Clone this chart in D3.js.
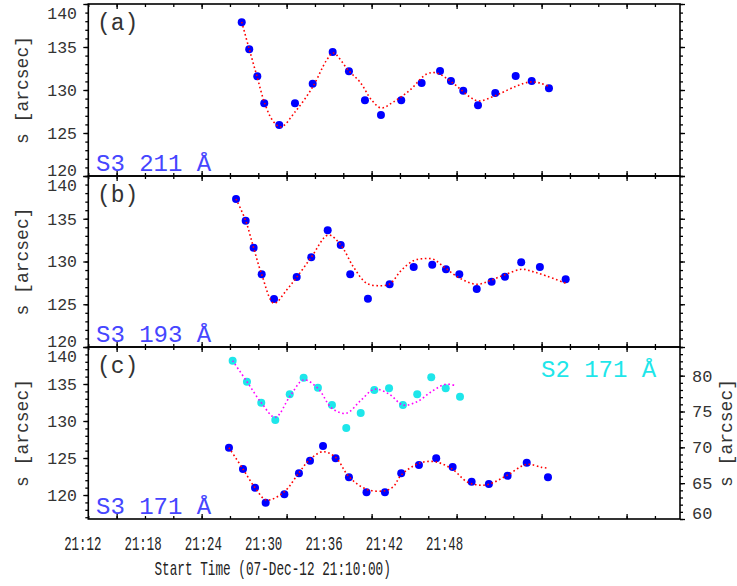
<!DOCTYPE html>
<html><head><meta charset="utf-8">
<script src="https://cdn.jsdelivr.net/npm/d3@7/dist/d3.min.js"></script>
<style>
body{margin:0;background:#fff}
svg{display:block}
text{font-family:"Liberation Mono","Courier New",monospace}
</style>
</head><body>
<svg id="chart" width="737" height="586"></svg>
<script>
// ---------- DATA (time in minutes after 21:10:00, s in arcsec) ----------
const xTickMinutes = [2, 8, 14, 20, 26, 32, 38];
const xTickLabels  = ["21:12","21:18","21:24","21:30","21:36","21:42","21:48"];
const xTitle = "Start Time (07-Dec-12 21:10:00)";
const yTicksLeft  = [120, 125, 130, 135, 140];
const yTicksRight = [60, 65, 70, 75, 80];

// Panel (a) S3 211 Å
const aTime = [10.83,11.36,11.93,12.42,13.48,14.59,15.84,17.25,18.40,19.53,20.66,22.09,23.53,24.83,25.60,26.47,27.51,28.73,30.17,31.30,32.52];
const aS    = [137.87,134.73,131.59,128.45,125.93,128.45,130.73,134.42,132.17,128.80,127.09,128.80,130.81,132.21,131.05,129.92,128.22,129.65,131.63,131.05,130.20];
const aFitTime = [10.83,11.34,11.90,12.47,13.04,13.60,14.59,15.84,16.83,17.29,18.40,19.18,20.00,20.66,21.53,22.71,23.89,24.59,25.65,26.94,27.53,28.83,30.24,31.18,31.88,32.59];
const aFitS    = [137.91,134.88,131.63,128.37,126.40,125.70,127.44,130.35,133.49,134.30,132.21,130.93,128.84,127.91,128.60,130.00,131.86,131.98,130.93,129.19,128.72,129.42,130.47,130.93,130.81,130.35];

// Panel (b) S3 193 Å
const bTime = [10.43,11.11,11.67,12.24,13.11,14.71,15.74,16.90,17.82,18.49,19.74,21.27,22.97,24.28,25.25,26.19,27.42,28.47,29.41,30.56,31.88,33.70];
const bS    = [137.31,134.77,131.61,128.50,125.61,128.19,130.49,133.65,131.93,128.50,125.65,127.33,129.36,129.63,129.09,128.50,126.78,127.64,128.22,129.91,129.36,127.92];
const bFitTime = [10.43,11.11,11.67,12.24,13.11,14.00,14.71,15.74,16.94,17.82,18.71,19.65,20.59,21.27,22.12,22.94,23.65,24.35,25.18,26.24,27.42,28.47,29.53,30.59,31.41,32.36,33.70];
const bFitS    = [137.31,134.77,131.61,128.50,125.11,126.67,128.15,130.49,133.10,131.93,129.39,127.45,127.17,127.37,129.01,130.09,130.33,130.26,129.27,128.03,127.33,127.84,128.54,129.09,128.81,128.30,127.45];

// Panel (c) S3 171 Å (left axis)
const cTime = [9.93,10.92,11.77,12.52,13.84,14.87,15.65,16.57,17.46,18.40,19.64,20.94,22.09,23.34,24.56,25.72,27.06,28.28,29.60,30.95,32.45];
const cS    = [126.39,123.51,120.99,118.96,120.09,122.93,124.64,126.62,124.96,122.39,120.36,120.36,122.93,124.05,124.96,123.78,121.80,121.49,122.61,124.36,122.39];
const cFitTime = [9.93,10.92,11.77,12.59,13.84,14.87,15.65,16.55,17.46,18.40,19.65,20.94,21.53,22.09,23.34,24.47,25.72,26.71,27.53,28.28,29.60,30.95,32.00,32.52];
const cFitS    = [126.39,123.51,120.99,119.32,120.45,123.01,124.82,125.85,125.09,122.47,120.77,120.58,121.12,122.70,124.28,124.50,123.47,121.80,121.35,121.45,122.70,124.15,123.74,123.61];

// Panel (c) S2 171 Å (right axis)
const c2Time = [10.19,11.20,12.21,13.20,14.22,15.20,16.21,17.20,18.21,19.23,20.19,21.23,22.21,23.22,24.21,25.23,26.24];
const c2S    = [82.09,79.16,76.23,73.81,77.40,79.72,78.32,75.91,72.70,74.79,78.00,78.24,75.91,77.40,79.77,78.24,77.07];
const c2FitTime = [10.19,11.20,12.21,13.20,14.22,15.20,16.21,17.20,18.21,19.20,20.19,21.23,22.21,23.22,24.21,25.23,26.00];
const c2FitS    = [82.09,79.16,76.23,74.19,77.07,79.40,78.24,75.45,74.75,76.47,78.10,77.44,75.91,76.37,77.76,78.80,78.56];

// ---------- LAYOUT ----------
const svg = d3.select("#chart");
const L = 88.3, R = 680;
const x = d3.scaleLinear().domain([0, 41.77]).range([L, R]);
const panels = [
  {top:4,   bottom:176, dom:[120,140], tag:"(a)", name:"S3 211 Å", pts:[aTime,aS], fit:[aFitTime,aFitS]},
  {top:176, bottom:347, dom:[120,140], tag:"(b)", name:"S3 193 Å", pts:[bTime,bS], fit:[bFitTime,bFitS]},
  {top:347, bottom:519, dom:[116.76,140], tag:"(c)", name:"S3 171 Å", pts:[cTime,cS], fit:[cFitTime,cFitS]}
];
const blue = "#0000ff", cyan = "#1ee6ea", txtBlue = "#4646ff";
const dots = "1.6,2.6";

function labelY(v, y, p){ return Math.max(p.top + 9, Math.min(p.bottom - 6, y(v))); }

panels.forEach((p, i) => {
  const y = d3.scaleLinear().domain(p.dom).range([p.bottom, p.top]);
  const g = svg.append("g");
  const minorX = d3.range(0, 41, 2), majorX = xTickMinutes;
  const minorY = d3.range(Math.ceil(p.dom[0]), 141, 1);
  // x ticks top & bottom (inward)
  g.append("g").attr("transform",`translate(0,${p.top})`)
    .call(d3.axisBottom(x).tickValues(minorX).tickSize(3).tickFormat("").tickSizeOuter(0));
  g.append("g").attr("transform",`translate(0,${p.top})`)
    .call(d3.axisBottom(x).tickValues(majorX).tickSize(5).tickFormat("").tickSizeOuter(0));
  g.append("g").attr("transform",`translate(0,${p.bottom})`)
    .call(d3.axisTop(x).tickValues(minorX).tickSize(3).tickFormat("").tickSizeOuter(0));
  g.append("g").attr("transform",`translate(0,${p.bottom})`)
    .call(d3.axisTop(x).tickValues(majorX).tickSize(5).tickFormat("").tickSizeOuter(0));
  // y ticks left (outward)
  g.append("g").attr("transform",`translate(${L},0)`)
    .call(d3.axisLeft(y).tickValues(minorY).tickSize(3).tickFormat("").tickSizeOuter(0));
  g.append("g").attr("transform",`translate(${L},0)`)
    .call(d3.axisLeft(y).tickValues(yTicksLeft.filter(v=>v>=p.dom[0])).tickSize(5).tickFormat("").tickSizeOuter(0));
  let yr = y;
  if (i < 2) {
    g.append("g").attr("transform",`translate(${R},0)`)
      .call(d3.axisRight(y).tickValues(minorY).tickSize(3).tickFormat("").tickSizeOuter(0));
    g.append("g").attr("transform",`translate(${R},0)`)
      .call(d3.axisRight(y).tickValues(yTicksLeft).tickSize(5).tickFormat("").tickSizeOuter(0));
  } else {
    yr = d3.scaleLinear().domain([60,84]).range([p.bottom, p.top]);
    g.append("g").attr("transform",`translate(${R},0)`)
      .call(d3.axisRight(yr).tickValues(d3.range(60,85,1)).tickSize(3).tickFormat("").tickSizeOuter(0));
    g.append("g").attr("transform",`translate(${R},0)`)
      .call(d3.axisRight(yr).tickValues(yTicksRight).tickSize(5).tickFormat("").tickSizeOuter(0));
    g.selectAll(".rlab").data(yTicksRight).enter().append("text")
      .attr("x", 692).attr("y", v => labelY(v, yr, p)).attr("dy","0.35em")
      .attr("font-size", 17).attr("fill","#333").text(v => v);
    svg.append("text").attr("transform",`translate(732,${(p.top+p.bottom)/2}) rotate(-90)`)
      .attr("text-anchor","middle").attr("font-size",18).attr("fill","#333").text("s [arcsec]");
  }
  g.selectAll("path.domain").remove();
  g.selectAll(".tick line").attr("stroke","#000").attr("stroke-width",1.3);
  // frame
  g.append("rect").attr("x",L).attr("y",p.top).attr("width",R-L).attr("height",p.bottom-p.top)
    .attr("fill","none").attr("stroke","#000").attr("stroke-width",1.6);
  // left tick labels
  g.selectAll(".llab").data(yTicksLeft.filter(v=>v>=p.dom[0])).enter().append("text")
    .attr("x", 77).attr("y", v => labelY(v, y, p)).attr("dy","0.35em")
    .attr("text-anchor","end").attr("font-size",16.5).attr("fill","#333").text(v => v);
  // y title
  svg.append("text").attr("transform",`translate(28,${(p.top+p.bottom)/2}) rotate(-90)`)
    .attr("text-anchor","middle").attr("font-size",18).attr("fill","#333").text("s [arcsec]");
  // panel tags
  g.append("text").attr("x",97).attr("y",p.top+26).attr("font-size",23).attr("fill","#333").text(p.tag);
  g.append("text").attr("x",96).attr("y",p.bottom-5).attr("font-size",24).attr("fill",txtBlue).text(p.name);

  const line = d3.line().curve(d3.curveCatmullRom.alpha(0.5));
  if (i === 2) {
    // S2 series on right axis
    g.selectAll(".c2").data(c2Time).enter().append("circle")
      .attr("cx", (t) => x(t)).attr("cy", (t,k) => yr(c2S[k])).attr("r",4).attr("fill",cyan);
    g.append("path").attr("d", line(c2FitTime.map((t,k)=>[x(t), yr(c2FitS[k])])))
      .attr("fill","none").attr("stroke","#ff00ff").attr("stroke-width",1.6).attr("stroke-dasharray",dots);
    g.append("text").attr("x",541).attr("y",p.top+30).attr("font-size",24).attr("fill",cyan).text("S2 171 Å");
  }
  const [T, S] = p.pts;
  g.selectAll(".pt").data(T).enter().append("circle")
    .attr("cx", t => x(t)).attr("cy", (t,k) => y(S[k])).attr("r",4).attr("fill",blue);
  const [FT, FS] = p.fit;
  g.append("path").attr("d", line(FT.map((t,k)=>[x(t), y(FS[k])])))
    .attr("fill","none").attr("stroke","#ff0000").attr("stroke-width",1.6).attr("stroke-dasharray",dots);
});

// bottom labels (horizontally condensed as in the original)
const sx = 0.7096, gx = 0.62;
svg.selectAll(".xl").data(xTickMinutes).enter().append("text")
  .attr("transform", t => `translate(${sx * x(t)},550) scale(${gx},1)`)
  .attr("text-anchor","middle").attr("font-size",20).attr("fill","#222")
  .text((t,k) => xTickLabels[k]);
svg.append("text")
  .attr("transform", `translate(${sx * (L + R) / 2},575) scale(${gx},1)`)
  .attr("text-anchor","middle").attr("font-size",20.5).attr("fill","#222").text(xTitle);
</script>
</body></html>
